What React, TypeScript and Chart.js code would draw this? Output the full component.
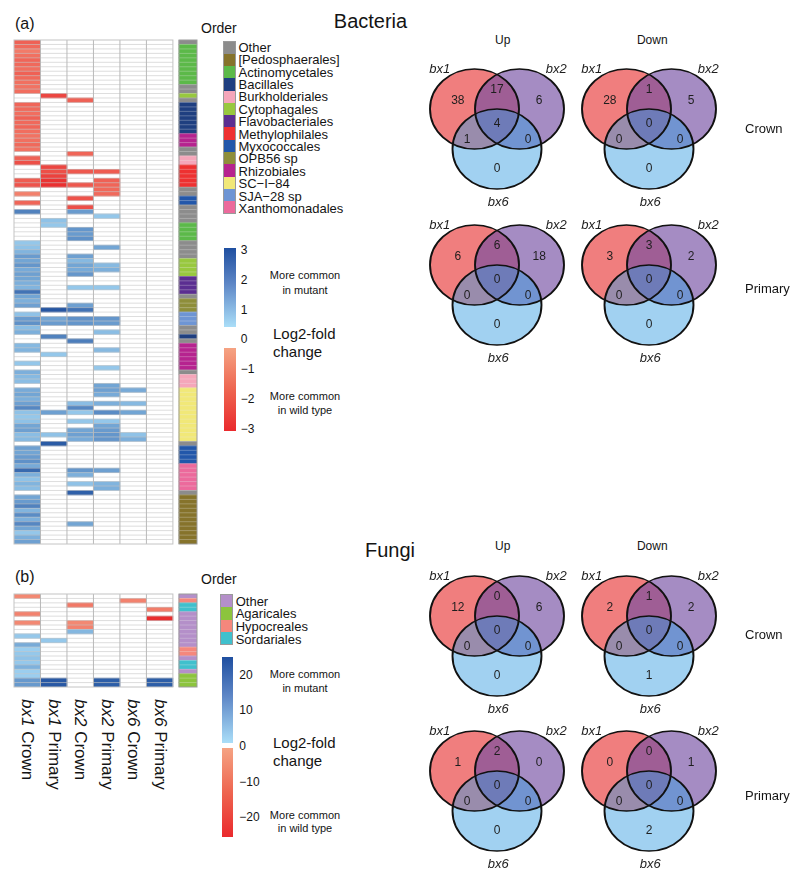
import React, { useEffect, useRef } from "react";
import { Chart, registerables } from "chart.js";
Chart.register(...registerables);

const FONT = "'Liberation Sans', Arial, Helvetica, sans-serif";

// ---------- heatmap columns ----------
const HEAT_COLUMNS: [string, string][] = [
  ["bx1", "Crown"], ["bx1", "Primary"], ["bx2", "Crown"],
  ["bx2", "Primary"], ["bx6", "Crown"], ["bx6", "Primary"],
];

// ---------- bacteria ----------
const BAC_ORDER_NAMES = [
  "Other", "[Pedosphaerales]", "Actinomycetales", "Bacillales", "Burkholderiales",
  "Cytophagales", "Flavobacteriales", "Methylophilales", "Myxococcales", "OPB56 sp",
  "Rhizobiales", "SC\u2212I\u221284", "SJA\u221228 sp", "Xanthomonadales",
];
const BAC_ORDER_COLORS = [
  "#8c8c8c", "#86732b", "#5cb949", "#1f3f80", "#f5a6ba",
  "#98c83e", "#5b2e91", "#ee3131", "#2257aa", "#8e8e3a",
  "#b6238f", "#f1e878", "#6e95d4", "#ec6a9c",
];
// runs of [order index, number of rows], top to bottom
const BAC_ORDER_RUNS: [number, number][] = [
  [0, 1], [2, 9], [0, 2], [5, 1], [0, 1], [3, 7], [10, 3], [0, 2], [4, 2], [7, 5],
  [0, 2], [8, 2], [0, 4], [2, 4], [0, 4], [5, 4], [6, 4], [0, 1], [9, 3], [12, 3],
  [0, 2], [3, 1], [0, 1], [10, 6], [0, 1], [4, 3], [11, 12], [0, 1], [8, 4], [13, 6],
  [0, 1], [1, 11],
];
const BAC_BX1_CROWN = [
  -1.6, -1.4, -1.0, -1.25, -1.5, -1.4, -1.3, -1.6, -1.4, -1.25,
  -1.2, -1.3, 0, 0, -1.5, -1.4, -1.3, -1.6, -1.4, -1.5,
  -1.3, -1.2, -1.25, -1.4, -1.2, 0, -1.6, -2.0, 0, 0,
  0, -1.7, -1.9, 0, -0.9, 0, -1.5, 0, 1.9, 0,
  0, 0, 0, 0, 0, 0.5, 0.6, 0.9, 1.4, 1.2,
  1.5, 1.1, 1.3, 1.2, 1.0, 0.9, 2.2, 1.2, 1.0, 1.3,
  0, 0.6, 1.4, 1.6, 0.7, 1.0, 0, 0, 0.8, 0.9,
  0, 0, 0.5, 0, 1.0, 0.8, 0.7, 0, 1.1, 1.2,
  1.0, 1.3, 1.8, 0.6, 0.5, 0.6, 1.2, 1.3, 0.7, 0.8,
  0, 1.3, 1.2, 1.4, 1.6, 1.1, 2.4, 1.0, 0.6, 0.9,
  0.7, 0, 1.2, 1.4, 1.9, 0.9, 1.7, 1.0, 1.8, 1.2,
  0.5, 1.0, 1.3,
];
// sparse [row, log2 fold change]
const BAC_BX1_PRIMARY: [number, number][] = [
  [12, -2.2], [28, -2.2], [29, -2.0], [30, -2.3], [31, -2.6], [32, -2.7],
  [40, 0.6], [41, 0.5], [60, 2.8], [62, 1.2], [63, 1.4], [66, 1.9], [70, 0.5],
  [83, 1.3], [88, 0.6], [90, 2.7],
];
const BAC_BX2_CROWN: [number, number][] = [
  [13, -1.6], [25, -1.5], [29, -1.8], [32, -1.8], [35, -1.9], [37, -2.0], [38, 1.4],
  [42, 1.5], [43, 1.4], [44, 1.6], [48, 1.3], [49, 0.8], [50, 1.2], [51, 1.1], [52, 1.5],
  [55, 0.5], [59, 1.3], [60, 2.2], [62, 1.6], [63, 1.5], [67, 2.0], [81, 0.7], [82, 1.8],
  [83, 0.5], [85, 0.5], [87, 1.2], [88, 1.3], [89, 1.1], [96, 1.5], [97, 1.0], [99, 0.6],
  [101, 2.6], [108, 1.2],
];
const BAC_BX2_PRIMARY: [number, number][] = [
  [29, -1.7], [31, -1.6], [32, -1.5], [33, -1.4], [34, -1.4], [39, 0.5], [46, 1.2],
  [50, 0.8], [51, 1.0], [55, 0.5], [62, 1.5], [63, 1.4], [65, 0.7], [69, 0.8], [73, 0.5],
  [77, 1.2], [78, 1.3], [79, 1.1], [81, 1.0], [83, 1.7], [85, 0.5], [86, 1.2], [87, 1.4],
  [88, 1.5], [89, 1.5], [96, 1.3], [99, 0.9], [100, 1.0],
];
const BAC_BX6_CROWN: [number, number][] = [[78, 1.1], [81, 0.8], [83, 1.2], [88, 0.6], [89, 1.0]];
const BAC_BX6_PRIMARY: [number, number][] = [];
const BAC_SCALE_MAX = 3;
const BAC_SCALE_TICKS = [3, 2, 1, 0, -1, -2, -3];

// ---------- fungi ----------
const FUN_ORDER_NAMES = ["Other", "Agaricales", "Hypocreales", "Sordariales"];
const FUN_ORDER_COLORS = ["#b48fc9", "#8cc43d", "#f5877c", "#40c0cd"];
const FUN_ORDER_RUNS: [number, number][] = [
  [0, 1], [2, 1], [3, 2], [0, 8], [2, 2], [0, 1], [3, 2], [0, 1], [1, 3],
];
const FUN_BX1_CROWN: [number, number][] = [
  [0, -6], [4, -7], [6, -6], [9, 4], [11, 9], [12, 3], [13, 4], [14, 5], [15, 4],
  [16, 8], [17, 3], [18, 3], [19, 12], [20, 12],
];
const FUN_BX1_PRIMARY: [number, number][] = [[10, 4], [19, 23], [20, 23]];
const FUN_BX2_CROWN: [number, number][] = [[2, -9], [6, -6], [7, -7], [8, 7]];
const FUN_BX2_PRIMARY: [number, number][] = [[19, 22], [20, 22]];
const FUN_BX6_CROWN: [number, number][] = [[1, -7]];
const FUN_BX6_PRIMARY: [number, number][] = [[3, -8], [5, -23], [19, 22], [20, 22]];
const FUN_SCALE_MAX = 25;
const FUN_SCALE_TICKS = [20, 10, 0, -10, -20];

// ---------- Venn counts: [bx1, bx1&bx2, bx2, all, bx1&bx6, bx2&bx6, bx6] ----------
const VENN_SET_NAMES = ["bx1", "bx2", "bx6"];
const BAC_UP_CROWN = [38, 17, 6, 4, 1, 0, 0];
const BAC_DOWN_CROWN = [28, 1, 5, 0, 0, 0, 0];
const BAC_UP_PRIMARY = [6, 6, 18, 0, 0, 0, 0];
const BAC_DOWN_PRIMARY = [3, 3, 2, 0, 0, 0, 0];
const FUN_UP_CROWN = [12, 0, 6, 0, 0, 0, 0];
const FUN_DOWN_CROWN = [2, 1, 2, 0, 0, 0, 1];
const FUN_UP_PRIMARY = [1, 2, 0, 0, 0, 0, 0];
const FUN_DOWN_PRIMARY = [0, 0, 1, 0, 0, 0, 2];

// ---------- helpers ----------
function expandRuns(runs: [number, number][]) {
  const out: number[] = [];
  runs.forEach(([k, n]) => { for (let i = 0; i < n; i++) out.push(k); });
  return out;
}
function dense(n: number, pairs: [number, number][]) {
  const a = new Array(n).fill(0);
  pairs.forEach(([i, v]) => { a[i] = v; });
  return a;
}
const BAC_ROW_ORDER = expandRuns(BAC_ORDER_RUNS);
const FUN_ROW_ORDER = expandRuns(FUN_ORDER_RUNS);
const BAC_COLUMNS = [
  BAC_BX1_CROWN,
  dense(BAC_ROW_ORDER.length, BAC_BX1_PRIMARY),
  dense(BAC_ROW_ORDER.length, BAC_BX2_CROWN),
  dense(BAC_ROW_ORDER.length, BAC_BX2_PRIMARY),
  dense(BAC_ROW_ORDER.length, BAC_BX6_CROWN),
  dense(BAC_ROW_ORDER.length, BAC_BX6_PRIMARY),
];
const FUN_COLUMNS = [FUN_BX1_CROWN, FUN_BX1_PRIMARY, FUN_BX2_CROWN, FUN_BX2_PRIMARY, FUN_BX6_CROWN, FUN_BX6_PRIMARY]
  .map((p) => dense(FUN_ROW_ORDER.length, p));

const BLUE_LO = [172, 224, 250], BLUE_HI = [28, 76, 156];
const RED_LO = [247, 168, 138], RED_HI = [232, 34, 38];
function heatColor(v: number, max: number) {
  if (!v) return "rgba(0,0,0,0)";
  const t = Math.min(1, Math.abs(v) / max);
  const [a, b] = v > 0 ? [BLUE_LO, BLUE_HI] : [RED_LO, RED_HI];
  return `rgb(${a.map((c, i) => Math.round(c + (b[i] - c) * t)).join(",")})`;
}

// heatmap layout
const HEAT_LEFT = 14;
const COL_W = 26.48;
const ORDER_X0 = 6.23;
const ORDER_X1 = 6.91;

const heatGrid = (n: number) => ({
  id: "heatGrid",
  afterDatasetsDraw(chart: any) {
    const { ctx, chartArea: a, scales } = chart;
    const x = scales.x;
    const h = (a.bottom - a.top) / n;
    const x0 = x.getPixelForValue(0), x6 = x.getPixelForValue(6);
    const o0 = x.getPixelForValue(ORDER_X0), o1 = x.getPixelForValue(ORDER_X1);
    ctx.save();
    ctx.lineWidth = 1;
    for (let i = 1; i < n; i++) {
      const yy = a.top + i * h;
      ctx.strokeStyle = "rgba(198,198,198,0.6)";
      ctx.beginPath(); ctx.moveTo(x0, yy); ctx.lineTo(x6, yy); ctx.stroke();
      ctx.strokeStyle = "rgba(235,235,235,0.3)";
      ctx.beginPath(); ctx.moveTo(o0, yy); ctx.lineTo(o1, yy); ctx.stroke();
    }
    ctx.strokeStyle = "#b9b9b9";
    for (let c = 1; c < 6; c++) {
      const xx = x.getPixelForValue(c);
      ctx.beginPath(); ctx.moveTo(xx, a.top); ctx.lineTo(xx, a.bottom); ctx.stroke();
    }
    ctx.strokeStyle = "#c4c4c4";
    ctx.strokeRect(x0, a.top, x6 - x0, a.bottom - a.top);
    ctx.strokeStyle = "#9c9c9c";
    ctx.strokeRect(o0, a.top, o1 - o0, a.bottom - a.top);
    ctx.restore();
  },
});

function Heatmap({ columns, orderIdx, orderColors, maxAbs, top, height }: any) {
  const ref = useRef<HTMLCanvasElement>(null);
  useEffect(() => {
    const n = orderIdx.length;
    const labels = orderIdx.map((_: number, i: number) => String(i));
    const datasets: any[] = columns.map((vals: number[], c: number) => ({
      label: HEAT_COLUMNS[c].join(" "),
      data: vals.map((v) => (v ? [c, c + 1] : null)),
      backgroundColor: vals.map((v) => heatColor(v, maxAbs)),
      grouped: false, barPercentage: 1, categoryPercentage: 1, borderWidth: 0,
    }));
    datasets.push({
      label: "Order",
      data: orderIdx.map(() => [ORDER_X0, ORDER_X1]),
      backgroundColor: orderIdx.map((k: number) => orderColors[k]),
      grouped: false, barPercentage: 1, categoryPercentage: 1, borderWidth: 0,
    });
    const chart = new Chart(ref.current as HTMLCanvasElement, {
      type: "bar",
      data: { labels, datasets },
      options: {
        indexAxis: "y",
        responsive: false,
        animation: false,
        events: [],
        layout: { padding: 2, autoPadding: false },
        plugins: { legend: { display: false }, tooltip: { enabled: false } },
        scales: {
          x: { type: "linear", min: 0, max: ORDER_X1, display: false },
          y: { type: "category", display: false, offset: true },
        },
      } as any,
      plugins: [heatGrid(n)],
    });
    return () => chart.destroy();
  }, []);
  const w = COL_W * ORDER_X1 + 4;
  return (
    <canvas ref={ref} width={Math.round(w)} height={height + 4}
      style={{ position: "absolute", left: HEAT_LEFT - 2, top: top - 2 }} />
  );
}

// ---------- Venn ----------
const VENN_U = 40; // px per unit
const VENN_STRETCH = 1.1125; // horizontal ellipse stretch
const VENN_W = 180, VENN_H = 200, VENN_TOP_PAD = 50;
const VENN_SET_POS = [[-0.5625, 0], [0.5625, 0], [0, -1]];
const VENN_NUM_POS = [[-0.98, 0.2], [0, 0.475], [1.055, 0.2], [0, -0.37], [-0.745, -0.775], [0.78, -0.775], [0, -1.48]];
const VENN_LABEL_POS = [[-1.43, 0.99], [1.48, 0.99], [0.03, -2.34]];
const VENN_FILLS = ["rgba(228,20,20,0.55)", "rgba(117,78,163,0.65)", "rgba(55,158,225,0.47)"];

const vennStretch = {
  id: "vennStretch",
  beforeDatasetsDraw(chart: any) {
    const { ctx, chartArea: a } = chart;
    const cx = (a.left + a.right) / 2;
    ctx.save();
    ctx.translate(cx, 0);
    ctx.scale(VENN_STRETCH, 1);
    ctx.translate(-cx, 0);
  },
  afterDatasetsDraw(chart: any) {
    chart.ctx.restore();
  },
};
const vennText = (counts: number[]) => ({
  id: "vennText",
  afterDraw(chart: any) {
    const { ctx, chartArea: a, scales } = chart;
    const cx = (a.left + a.right) / 2;
    const px = (v: number) => cx + VENN_STRETCH * (scales.x.getPixelForValue(v) - cx);
    const py = (v: number) => scales.y.getPixelForValue(v);
    ctx.save();
    ctx.fillStyle = "#1e1e1e";
    ctx.textAlign = "center";
    ctx.textBaseline = "middle";
    ctx.font = `12px ${FONT}`;
    counts.forEach((n, i) => ctx.fillText(String(n), px(VENN_NUM_POS[i][0]), py(VENN_NUM_POS[i][1])));
    ctx.font = `italic 13px ${FONT}`;
    VENN_SET_NAMES.forEach((s, i) => ctx.fillText(s, px(VENN_LABEL_POS[i][0]), py(VENN_LABEL_POS[i][1])));
    ctx.restore();
  },
});

function Venn({ counts, ox, oy }: { counts: number[]; ox: number; oy: number }) {
  const ref = useRef<HTMLCanvasElement>(null);
  useEffect(() => {
    const pts = VENN_SET_POS.map(([x, y]) => ({ x, y, r: VENN_U }));
    const datasets: any[] = VENN_SET_NAMES.map((name, i) => ({
      label: name,
      data: [pts[i]],
      backgroundColor: VENN_FILLS[i],
      borderWidth: 0,
      clip: false,
      order: 4 - i,
    }));
    datasets.push({
      label: "outline",
      data: pts,
      backgroundColor: "rgba(0,0,0,0)",
      borderColor: "#111111",
      borderWidth: 1.7,
      clip: false,
      order: 0,
    });
    const xr = (VENN_W / 2) * VENN_STRETCH / VENN_U;
    const chart = new Chart(ref.current as HTMLCanvasElement, {
      type: "bubble",
      data: { datasets },
      options: {
        responsive: false,
        animation: false,
        events: [],
        layout: { padding: 0, autoPadding: false },
        plugins: { legend: { display: false }, tooltip: { enabled: false } },
        scales: {
          x: { type: "linear", min: -xr, max: xr, display: false },
          y: { type: "linear", min: -(VENN_H - VENN_TOP_PAD) / VENN_U, max: VENN_TOP_PAD / VENN_U, display: false },
        },
      } as any,
      plugins: [vennStretch, vennText(counts)],
    });
    return () => chart.destroy();
  }, []);
  return (
    <canvas ref={ref} width={VENN_W} height={VENN_H}
      style={{ position: "absolute", left: ox - VENN_W / 2, top: oy - VENN_TOP_PAD }} />
  );
}

// ---------- text helpers ----------
function T({ x, y, size = 13, anchor = "start", italic = false, children }: any) {
  const tx = anchor === "middle" ? "-50%" : anchor === "end" ? "-100%" : "0";
  return (
    <div style={{
      position: "absolute", left: x, top: y, transform: `translate(${tx},-50%)`,
      fontSize: size, lineHeight: 1, whiteSpace: "nowrap", fontStyle: italic ? "italic" : "normal",
    }}>{children}</div>
  );
}

function OrderLegend({ names, colors, titleY, swatchLeft, swatchW, textLeft, top, step }: any) {
  return (
    <>
      <T x={201} y={titleY} size={14}>Order</T>
      <div style={{
        position: "absolute", left: swatchLeft, top, width: swatchW, height: step * names.length,
        border: "1px solid #9a9a9a", boxSizing: "border-box", display: "flex", flexDirection: "column",
      }}>
        {colors.map((c: string, i: number) => <div key={i} style={{ flex: 1, background: c }} />)}
      </div>
      {names.map((n: string, i: number) => (
        <T key={n} x={textLeft} y={top + step * (i + 0.5)} size={13}>{n}</T>
      ))}
    </>
  );
}

function ColorBar({ left, width, blueTop, blueBottom, redTop, redBottom, ticks, zeroY, pxPerUnit, tickX, texts }: any) {
  return (
    <>
      <div style={{ position: "absolute", left, top: blueTop, width, height: blueBottom - blueTop,
        background: "linear-gradient(to bottom, #1f4fa0, #5d86c6 45%, #aadef8)" }} />
      <div style={{ position: "absolute", left, top: redTop, width, height: redBottom - redTop,
        background: "linear-gradient(to bottom, #f5a383, #ee6550 50%, #ea2a2d)" }} />
      {ticks.map((t: number) => (
        <T key={t} x={tickX} y={zeroY - t * pxPerUnit} size={12}>{t < 0 ? `\u2212${-t}` : String(t)}</T>
      ))}
      <T x={305} y={texts[0]} size={11} anchor="middle">More common</T>
      <T x={305} y={texts[1]} size={11} anchor="middle">in mutant</T>
      <T x={273} y={texts[2]} size={15}>Log2-fold</T>
      <T x={273} y={texts[3]} size={15}>change</T>
      <T x={305} y={texts[4]} size={11} anchor="middle">More common</T>
      <T x={305} y={texts[5]} size={11} anchor="middle">in wild type</T>
    </>
  );
}

export default function App() {
  return (
    <div style={{
      position: "absolute", left: 0, top: 0, width: 800, height: 883, background: "#ffffff",
      overflow: "hidden", fontFamily: FONT, color: "#141414",
    }}>
      {/* ---------- (a) Bacteria ---------- */}
      <T x={15} y={23.5} size={16}>(a)</T>
      <T x={370.5} y={21} size={20} anchor="middle">Bacteria</T>
      <Heatmap columns={BAC_COLUMNS} orderIdx={BAC_ROW_ORDER} orderColors={BAC_ORDER_COLORS}
        maxAbs={BAC_SCALE_MAX} top={40} height={504} />
      <OrderLegend names={BAC_ORDER_NAMES} colors={BAC_ORDER_COLORS} titleY={28}
        swatchLeft={223} swatchW={13} textLeft={238.5} top={40.5} step={12.42} />
      <ColorBar left={224} width={11.7} blueTop={248.3} blueBottom={326.7} redTop={348.3} redBottom={431}
        ticks={BAC_SCALE_TICKS} zeroY={339.3} pxPerUnit={29.8} tickX={240.7}
        texts={[275, 290, 333, 351, 396, 410]} />

      <T x={502.7} y={39.5} size={12} anchor="middle">Up</T>
      <T x={652.3} y={39.5} size={12} anchor="middle">Down</T>
      <Venn counts={BAC_UP_CROWN} ox={496.5} oy={109} />
      <Venn counts={BAC_DOWN_CROWN} ox={649} oy={109} />
      <Venn counts={BAC_UP_PRIMARY} ox={496.5} oy={265} />
      <Venn counts={BAC_DOWN_PRIMARY} ox={649} oy={265} />
      <T x={745} y={128.3} size={13}>Crown</T>
      <T x={745} y={288.3} size={13}>Primary</T>

      {/* ---------- (b) Fungi ---------- */}
      <T x={15} y={576.7} size={16}>(b)</T>
      <T x={390} y={549.8} size={20} anchor="middle">Fungi</T>
      <Heatmap columns={FUN_COLUMNS} orderIdx={FUN_ROW_ORDER} orderColors={FUN_ORDER_COLORS}
        maxAbs={FUN_SCALE_MAX} top={594.3} height={93} />
      <OrderLegend names={FUN_ORDER_NAMES} colors={FUN_ORDER_COLORS} titleY={579}
        swatchLeft={220} swatchW={12.5} textLeft={235.7} top={594.3} step={12.67} />
      <ColorBar left={221.7} width={11.6} blueTop={656.7} blueBottom={742.7} redTop={748.3} redBottom={836.7}
        ticks={FUN_SCALE_TICKS} zeroY={746} pxPerUnit={3.57} tickX={239.3}
        texts={[674.3, 688.3, 741.7, 760, 815, 828.3]} />

      {HEAT_COLUMNS.map(([g, t], c) => (
        <div key={c} style={{
          position: "absolute", left: HEAT_LEFT + COL_W * (c + 0.5) - 10, top: 699, width: 20,
          writingMode: "vertical-rl", fontSize: 17, lineHeight: "20px", whiteSpace: "nowrap",
        }}><i>{g}</i> {t}</div>
      ))}

      <T x={502.7} y={546} size={12} anchor="middle">Up</T>
      <T x={652.3} y={546} size={12} anchor="middle">Down</T>
      <Venn counts={FUN_UP_CROWN} ox={496.5} oy={615.7} />
      <Venn counts={FUN_DOWN_CROWN} ox={649} oy={615.7} />
      <Venn counts={FUN_UP_PRIMARY} ox={496.5} oy={770.7} />
      <Venn counts={FUN_DOWN_PRIMARY} ox={649} oy={770.7} />
      <T x={745} y={634} size={13}>Crown</T>
      <T x={745} y={795} size={13}>Primary</T>
    </div>
  );
}
